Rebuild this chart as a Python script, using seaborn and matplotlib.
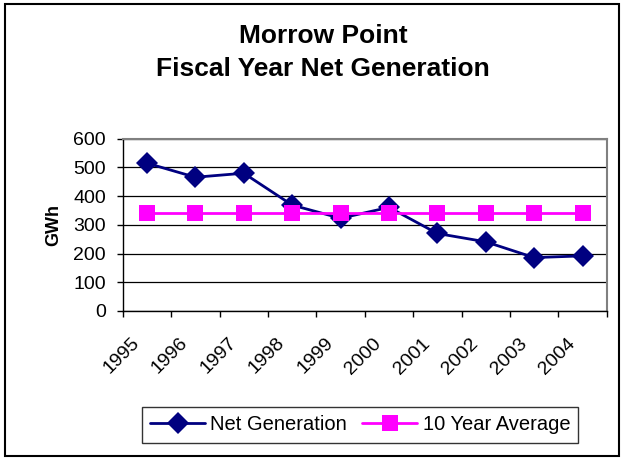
import numpy as np
import pandas as pd
import matplotlib
matplotlib.use("Agg")
import matplotlib.pyplot as plt
import seaborn as sns
from matplotlib.patches import Rectangle
from matplotlib.ticker import FixedLocator

# chart values
years = ["1995", "1996", "1997", "1998", "1999", "2000", "2001", "2002", "2003", "2004"]
net_generation = [515, 466, 480, 369, 323, 361, 270, 241, 186, 192]
ten_year_avg = [340] * 10
y_ticks = [0, 100, 200, 300, 400, 500, 600]


def build_frame():
    """
    Long-form table for seaborn.
    """
    pos = np.arange(len(years))
    df1 = pd.DataFrame({"pos": pos, "GWh": net_generation, "series": "Net Generation"})
    df2 = pd.DataFrame({"pos": pos, "GWh": ten_year_avg, "series": "10 Year Average"})
    return pd.concat([df1, df2], ignore_index=True)


def plot_chart(df):
    sns.set_style("white")
    plt.rcParams["font.family"] = ["Liberation Sans", "DejaVu Sans"]
    plt.rcParams.update({"text.color": "black", "axes.labelcolor": "black",
                         "xtick.color": "black", "ytick.color": "black"})

    fig = plt.figure(figsize=(6.23, 4.58), dpi=100)
    ax = fig.add_axes([0.197, 0.321, 0.777, 0.376])

    sns.lineplot(data=df, x="pos", y="GWh", hue="series", style="series",
                 palette={"Net Generation": "#000080", "10 Year Average": "#FF00FF"},
                 markers={"Net Generation": "D", "10 Year Average": "s"},
                 dashes=False, linewidth=2, markersize=11, markeredgewidth=0,
                 ax=ax)

    ax.set_xlim(-0.5, len(years) - 0.5)
    ax.set_ylim(0, 600)
    ax.set_yticks(y_ticks)
    ax.set_yticklabels([str(v) for v in y_ticks], fontsize=14)
    # rotated labels sit a little left of the category centre, like Excel
    ax.set_xticks(np.arange(len(years)) - 0.33)
    ax.set_xticklabels(years, rotation=45, ha="right", rotation_mode="anchor", fontsize=14)
    ax.tick_params(axis="x", which="major", length=0, pad=17)
    ax.xaxis.set_minor_locator(FixedLocator(np.arange(-0.5, len(years), 1.0)))
    ax.tick_params(axis="x", which="minor", length=4, width=1, color="black", direction="out", bottom=True)
    ax.tick_params(axis="y", length=4, width=1, color="black", direction="out", left=True, pad=8)

    ax.grid(axis="y", color="black", linewidth=0.9)
    ax.set_axisbelow(True)
    for side in ["left", "bottom"]:
        ax.spines[side].set_color("black")
        ax.spines[side].set_linewidth(1)
    for side in ["top", "right"]:
        ax.spines[side].set_color("#808080")
        ax.spines[side].set_linewidth(1.5)

    ax.set_xlabel("")
    ax.set_ylabel("GWh", fontsize=13, fontweight="bold", labelpad=8)

    handles, labels = ax.get_legend_handles_labels()
    ax.legend(handles, labels, loc="center", bbox_to_anchor=(360 / 623, 1 - 425 / 458),
              bbox_transform=fig.transFigure, ncol=2, frameon=True, fancybox=False,
              edgecolor="black", fontsize=14.5, handlelength=2.75, columnspacing=0.75,
              handletextpad=0.25, borderpad=0.4)

    fig.text(323 / 623, 1 - 36 / 458, "Morrow Point", ha="center", va="center",
             fontsize=19, fontweight="bold")
    fig.text(323 / 623, 1 - 69 / 458, "Fiscal Year Net Generation", ha="center", va="center",
             fontsize=19, fontweight="bold")

    fig.patches.append(Rectangle((5 / 623, 2 / 458), 614 / 623, 452 / 458,
                                 transform=fig.transFigure, fill=False,
                                 edgecolor="black", linewidth=1.5))
    fig.savefig("out.png", dpi=100)


if __name__ == "__main__":
    plot_chart(build_frame())
